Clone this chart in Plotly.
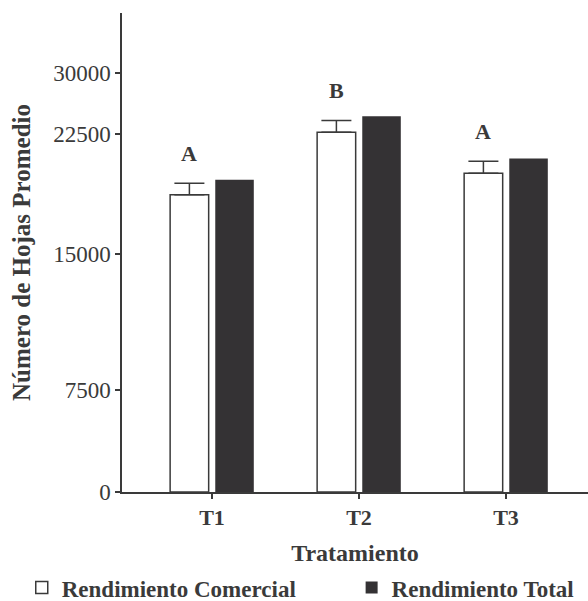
import numpy as np
import plotly.graph_objects as go

# ---- data ----
treatments = ["T1", "T2", "T3"]
comercial = [18700, 22750, 20060]
comercial_err = [730, 1440, 750]
total = [19650, 24700, 20980]
letters = ["A", "B", "A"]

y_tick_values = [0, 7500, 15000, 22500, 30000]
y_tick_labels = ["0", "7500", "15000", "22500", "30000"]
# the original axis is not evenly spaced: fraction of axis height where each labelled tick sits
y_tick_frac = [0.0, 0.213, 0.497, 0.747, 0.874]


def yscale(v):
    return np.interp(v, y_tick_values, y_tick_frac)


FONT = "Liberation Serif, Times New Roman, serif"
INK = "#3a3a3a"
DARK = "#343234"
BARGAP = 0.386
GROUPGAP = 0.146

com_pos = yscale(comercial)
tot_pos = yscale(total)
err_plus = yscale(np.array(comercial) + np.array(comercial_err)) - com_pos

fig = go.Figure()
fig.add_trace(go.Bar(
    x=treatments, y=com_pos, name="Rendimiento Comercial", legend="legend",
    marker=dict(color="white", line=dict(color=INK, width=1.5)),
    error_y=dict(type="data", array=err_plus, arrayminus=[0] * len(comercial),
                 symmetric=False, width=15, thickness=1.5, color=INK),
    customdata=comercial, hovertemplate="%{x}: %{customdata}<extra></extra>",
))
fig.add_trace(go.Bar(
    x=treatments, y=tot_pos, name="Rendimiento Total", legend="legend2",
    marker=dict(color=DARK, line=dict(color=DARK, width=0)),
    customdata=total, hovertemplate="%{x}: %{customdata}<extra></extra>",
))

offset = (1 - BARGAP) / 4
for i, (c, e, lab) in enumerate(zip(comercial, comercial_err, letters)):
    fig.add_annotation(
        x=i - offset, y=float(yscale(c + e)), xref="x", yref="y",
        text=lab, showarrow=False, yanchor="bottom", yshift=15,
        font=dict(family=FONT, size=22, color=INK, weight="bold"),
    )

legend_style = dict(
    orientation="h", xref="container", yref="container",
    xanchor="left", y=0.058, yanchor="top",
    font=dict(family=FONT, size=23, color=INK, weight="bold"),
    bgcolor="rgba(0,0,0,0)",
)

fig.update_layout(
    width=588, height=601,
    margin=dict(l=122, r=0, t=13, b=109, autoexpand=False),
    paper_bgcolor="white", plot_bgcolor="white",
    barmode="group", bargap=BARGAP, bargroupgap=GROUPGAP,
    font=dict(family=FONT, color=INK),
    showlegend=True,
    legend=dict(x=0.037, **legend_style),
    legend2=dict(x=0.598, **legend_style),
)

fig.update_xaxes(
    type="category", range=[-0.612, 2.558],
    showline=True, linecolor=INK, linewidth=1.5,
    ticks="outside", ticklen=5, tickcolor=INK, tickwidth=1.5,
    ticklabelstandoff=0,
    tickfont=dict(family=FONT, size=22, color=INK, weight="bold"),
    showgrid=False, zeroline=False,
    title=dict(text="Tratamiento", standoff=19,
               font=dict(family=FONT, size=24, color=INK, weight="bold")),
)
fig.update_yaxes(
    range=[0, 1],
    tickmode="array", tickvals=list(yscale(y_tick_values)), ticktext=y_tick_labels,
    showline=True, linecolor=INK, linewidth=1.5,
    ticks="outside", ticklen=5, tickcolor=INK, tickwidth=1.5,
    ticklabelstandoff=0,
    tickfont=dict(family=FONT, size=23, color=INK),
    showgrid=False, zeroline=False,
    title=dict(text="Número de Hojas Promedio", standoff=15,
               font=dict(family=FONT, size=25, color=INK, weight="bold")),
)

fig.write_html(
    "out.html",
    config={"displayModeBar": False},
    post_script="document.body.style.margin='0';document.body.style.overflow='hidden';",
)
